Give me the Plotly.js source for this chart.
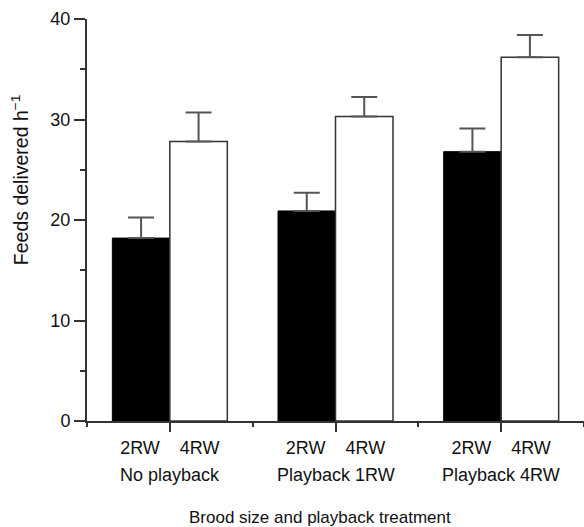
<!DOCTYPE html>
<html><head><meta charset="utf-8">
<script src="https://cdn.plot.ly/plotly-3.0.1.min.js"></script>
<style>body{margin:0;background:#fff}</style>
</head><body><div id="chart" style="width:584px;height:527px"></div>
<script>
const groups = ['No playback', 'Playback 1RW', 'Playback 4RW'];
const sizeLabels = ['2RW', '4RW'];
const mean2RW = [18.2, 20.9, 26.8];
const mean4RW = [27.8, 30.3, 36.2];
const se2RW = [2.05, 1.8, 2.3];
const se4RW = [2.9, 1.95, 2.2];
const yTitle = 'Feeds delivered h<sup>\u22121</sup>';
const xTitle = 'Brood size and playback treatment';

const xIdx = groups.map((g, i) => i);
const gap = '\u00A0'.repeat(4);
const tickText = groups.map(() => sizeLabels.join(gap));
const FONT = 'Liberation Sans, Arial, sans-serif';
const AX = '#333';
const TXT = '#111';

const traces = [
  {
    type: 'bar', name: sizeLabels[0], x: xIdx, y: mean2RW,
    marker: {color: '#000', line: {color: '#000', width: 1}},
    error_y: {type: 'data', array: se2RW, symmetric: false, arrayminus: se2RW.map(() => 0),
              color: '#555', thickness: 2, width: 13}
  },
  {
    type: 'bar', name: sizeLabels[1], x: xIdx, y: mean4RW,
    marker: {color: '#fff', line: {color: '#333', width: 1.5}},
    error_y: {type: 'data', array: se4RW, symmetric: false, arrayminus: se4RW.map(() => 0),
              color: '#555', thickness: 2, width: 13}
  }
];

const annotations = groups.map((g, i) => ({
  x: i, xref: 'x', y: 0, yref: 'paper', yanchor: 'middle', xanchor: 'center',
  yshift: -54, text: g, showarrow: false, font: {family: FONT, size: 18, color: TXT}
}));
annotations.push({
  x: 0.469, xref: 'paper', y: 0, yref: 'paper', yanchor: 'middle', xanchor: 'center',
  yshift: -96, text: xTitle, showarrow: false, font: {family: FONT, size: 17, color: TXT}
});
annotations.push({
  x: 0, xref: 'paper', xshift: -67, y: 0.599, yref: 'paper', xanchor: 'center', yanchor: 'middle',
  textangle: -90, text: yTitle, showarrow: false, font: {family: FONT, size: 19.5, color: TXT}
});

const layout = {
  width: 584, height: 527,
  margin: {l: 87, r: 0, t: 19, b: 106},
  paper_bgcolor: '#fff', plot_bgcolor: '#fff',
  showlegend: false,
  barmode: 'group', bargap: 0.306, bargroupgap: 0,
  font: {family: FONT, size: 18, color: TXT},
  xaxis: {
    range: [-0.5, 2.5], tickmode: 'array', tickvals: xIdx, ticktext: tickText,
    showgrid: false, zeroline: false, showline: true, linecolor: AX, linewidth: 2,
    ticks: 'outside', ticklen: 9, tickwidth: 2, tickcolor: AX,
    tickfont: {family: FONT, size: 18, color: TXT},
    minor: {tickmode: 'array', tickvals: [-0.5, 0.5, 1.5, 2.5], ticks: 'outside', ticklen: 4, tickwidth: 2, tickcolor: AX, showgrid: false}
  },
  yaxis: {
    range: [0, 40], tickmode: 'linear', tick0: 0, dtick: 10,
    showgrid: false, zeroline: false, showline: true, linecolor: AX, linewidth: 2,
    ticks: 'outside', ticklen: 11, tickwidth: 2, tickcolor: AX,
    tickfont: {family: FONT, size: 18, color: TXT},
    minor: {dtick: 5, ticks: 'outside', ticklen: 5, tickwidth: 2, tickcolor: AX, showgrid: false}
  },
  annotations: annotations
};

Plotly.newPlot('chart', traces, layout, {displayModeBar: false, staticPlot: true});
</script>
</body></html>
